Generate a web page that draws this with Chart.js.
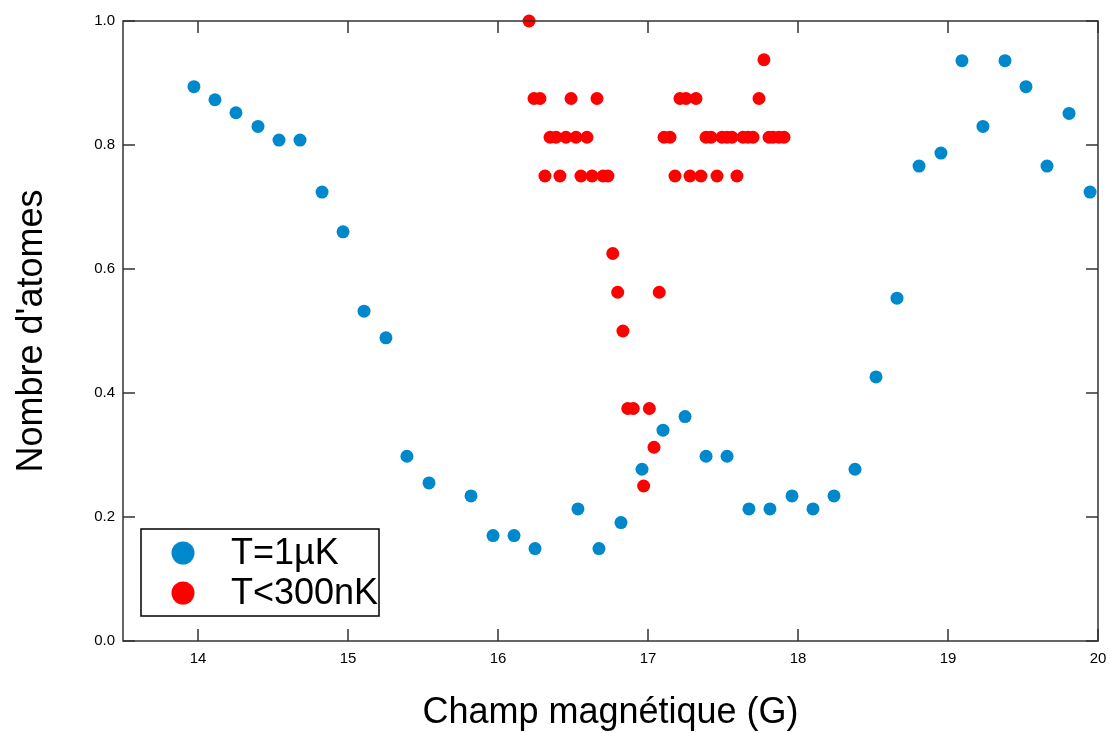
<!DOCTYPE html>
<html lang="fr">
<head>
    <meta charset="UTF-8">
    <title>Nombre d'atomes vs champ magnétique</title>
    <script src="https://cdn.jsdelivr.net/npm/chart.js"></script>
    <style>
        body {
            margin: 0;
            padding: 0;
            background: #fff;
        }

        .container {
            width: 1110px;
            height: 733px;
        }
    </style>
</head>
<body>
    <div class="container">
        <canvas id="chartCanvas" width="1110" height="733"></canvas>
    </div>

    <script>
        // T=1µK series
        const warmField = [13.973, 14.113, 14.253, 14.40, 14.54, 14.68, 14.827, 14.967, 15.107, 15.253,
            15.393, 15.54, 15.82, 15.967, 16.107, 16.247, 16.533, 16.673, 16.82, 16.96,
            17.10, 17.247, 17.387, 17.527, 17.673, 17.813, 17.96, 18.10, 18.24, 18.38,
            18.52, 18.66, 18.807, 18.953, 19.093, 19.233, 19.38, 19.52, 19.66, 19.807, 19.947];
        const warmAtoms = [0.894, 0.873, 0.852, 0.830, 0.808, 0.808, 0.724, 0.660, 0.532, 0.489,
            0.298, 0.255, 0.234, 0.170, 0.170, 0.149, 0.213, 0.149, 0.191, 0.277,
            0.340, 0.362, 0.298, 0.298, 0.213, 0.213, 0.234, 0.213, 0.234, 0.277,
            0.426, 0.553, 0.766, 0.787, 0.936, 0.830, 0.936, 0.894, 0.766, 0.851, 0.724];

        // T<300nK series
        const coldField = [16.207,
            16.24, 16.28, 16.487, 16.66, 17.213, 17.253, 17.32, 17.74,
            17.773,
            16.347, 16.387, 16.453, 16.52, 16.593, 17.107, 17.147, 17.387, 17.42, 17.493,
            17.527, 17.56, 17.633, 17.667, 17.70, 17.807, 17.833, 17.873, 17.907,
            16.313, 16.413, 16.553, 16.627, 16.70, 16.733, 17.18, 17.28, 17.353, 17.46, 17.593,
            16.765, 16.798, 17.075, 16.833, 16.865, 16.902, 17.009, 17.04, 16.971];
        const coldAtoms = [1.0,
            0.875, 0.875, 0.875, 0.875, 0.875, 0.875, 0.875, 0.875,
            0.9375,
            0.8125, 0.8125, 0.8125, 0.8125, 0.8125, 0.8125, 0.8125, 0.8125, 0.8125, 0.8125,
            0.8125, 0.8125, 0.8125, 0.8125, 0.8125, 0.8125, 0.8125, 0.8125, 0.8125,
            0.75, 0.75, 0.75, 0.75, 0.75, 0.75, 0.75, 0.75, 0.75, 0.75, 0.75,
            0.625, 0.5625, 0.5625, 0.5, 0.375, 0.375, 0.375, 0.3125, 0.25];

        const seriesLabels = ['T=1µK', 'T<300nK'];
        const xTickValues = [14, 15, 16, 17, 18, 19, 20];
        const yTickValues = [0, 0.2, 0.4, 0.6, 0.8, 1.0];

        const fontFamily = '"Liberation Sans", Arial, sans-serif';
        const blue = '#0088cc';
        const red = '#ff0000';

        // frame with inward ticks on all four sides
        const framePlugin = {
            id: 'frame',
            afterDatasetsDraw(chart) {
                const { ctx, chartArea: a } = chart;
                const xs = chart.scales.x;
                const ys = chart.scales.y;
                const tick = 12;
                ctx.save();
                ctx.strokeStyle = '#333';
                ctx.lineWidth = 1.5;
                ctx.strokeRect(a.left, a.top, a.right - a.left, a.bottom - a.top);
                ctx.beginPath();
                xTickValues.forEach(v => {
                    const px = xs.getPixelForValue(v);
                    ctx.moveTo(px, a.bottom);
                    ctx.lineTo(px, a.bottom - tick);
                    ctx.moveTo(px, a.top);
                    ctx.lineTo(px, a.top + tick);
                });
                yTickValues.forEach(v => {
                    const py = ys.getPixelForValue(v);
                    ctx.moveTo(a.left, py);
                    ctx.lineTo(a.left + tick, py);
                    ctx.moveTo(a.right, py);
                    ctx.lineTo(a.right - tick, py);
                });
                ctx.stroke();
                ctx.restore();
            }
        };

        // boxed legend in the lower left corner of the plot
        const boxLegendPlugin = {
            id: 'boxLegend',
            afterDraw(chart) {
                const { ctx, chartArea: a } = chart;
                const left = a.left + 18;
                const top = a.bottom - 112;
                const w = 238;
                const h = 87;
                ctx.save();
                ctx.fillStyle = '#fff';
                ctx.fillRect(left, top, w, h);
                ctx.strokeStyle = '#000';
                ctx.lineWidth = 1.5;
                ctx.strokeRect(left, top, w, h);
                ctx.font = '36px ' + fontFamily;
                ctx.textBaseline = 'middle';
                chart.data.datasets.forEach((ds, i) => {
                    const cy = top + 24 + i * 40;
                    ctx.fillStyle = ds.backgroundColor;
                    ctx.beginPath();
                    ctx.arc(left + 42, cy, 11.5, 0, Math.PI * 2);
                    ctx.fill();
                    ctx.fillStyle = '#000';
                    ctx.fillText(ds.label, left + 90, cy + 1);
                });
                ctx.restore();
            }
        };

        const chart = new Chart(document.getElementById('chartCanvas'), {
            type: 'scatter',
            data: {
                datasets: [{
                    label: seriesLabels[0],
                    data: warmField.map((x, i) => ({ x: x, y: warmAtoms[i] })),
                    backgroundColor: blue,
                    borderWidth: 0,
                    pointRadius: 6.5,
                    clip: false,
                    order: 2
                }, {
                    label: seriesLabels[1],
                    data: coldField.map((x, i) => ({ x: x, y: coldAtoms[i] })),
                    backgroundColor: red,
                    borderWidth: 0,
                    pointRadius: 6.5,
                    clip: false,
                    order: 1
                }]
            },
            options: {
                responsive: false,
                animation: false,
                layout: {
                    padding: { left: 0, top: 21, right: 12, bottom: 0 }
                },
                plugins: {
                    legend: { display: false },
                    tooltip: { enabled: false }
                },
                scales: {
                    x: {
                        type: 'linear',
                        min: 13.5,
                        max: 20,
                        afterBuildTicks: (scale) => {
                            scale.ticks = xTickValues.map(v => ({ value: v }));
                        },
                        afterFit: (scale) => {
                            scale.height = 92;
                            scale.paddingLeft = 0;
                            scale.paddingRight = 0;
                        },
                        grid: { display: false, drawTicks: false },
                        border: { display: false },
                        ticks: {
                            color: '#000',
                            padding: 9,
                            maxRotation: 0,
                            font: { family: fontFamily, size: 15 }
                        },
                        title: {
                            display: true,
                            text: 'Champ magnétique (G)',
                            color: '#000',
                            padding: { top: 0, bottom: 0 },
                            font: { family: fontFamily, size: 36, lineHeight: 1.1 }
                        }
                    },
                    y: {
                        type: 'linear',
                        min: 0,
                        max: 1,
                        afterBuildTicks: (scale) => {
                            scale.ticks = yTickValues.map(v => ({ value: v }));
                        },
                        afterFit: (scale) => {
                            scale.width = 123;
                            scale.paddingTop = 0;
                            scale.paddingBottom = 0;
                        },
                        grid: { display: false, drawTicks: false },
                        border: { display: false },
                        ticks: {
                            color: '#000',
                            padding: 8,
                            font: { family: fontFamily, size: 15 },
                            callback: (v) => v.toFixed(1)
                        },
                        title: {
                            display: true,
                            text: "Nombre d'atomes",
                            color: '#000',
                            padding: { top: 10, bottom: 0 },
                            font: { family: fontFamily, size: 36 }
                        }
                    }
                }
            },
            plugins: [framePlugin, boxLegendPlugin]
        });
    </script>
</body>
</html>
